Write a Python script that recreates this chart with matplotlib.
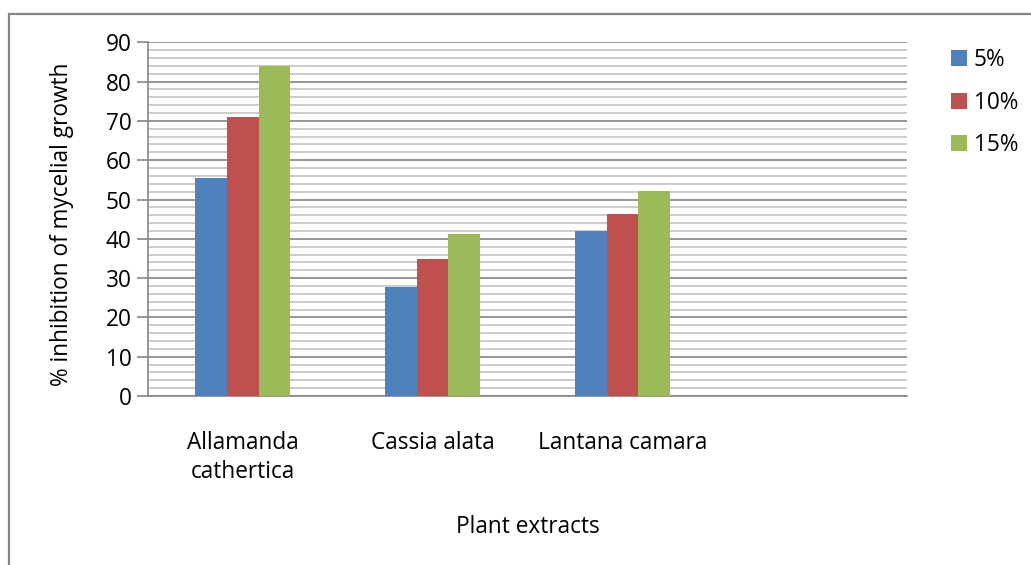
import matplotlib
matplotlib.use("Agg")
import matplotlib.pyplot as plt
from matplotlib.patches import Rectangle
from matplotlib.ticker import MultipleLocator
import numpy as np

plt.rcParams['font.family'] = ['Open Sans', 'DejaVu Sans']

categories = ["Allamanda\ncathertica", "Cassia alata", "Lantana camara", ""]
series_names = ["5%", "10%", "15%"]
vals_5 = [55.5, 27.8, 42.0]
vals_10 = [70.9, 34.9, 46.4]
vals_15 = [84.0, 41.2, 52.1]
colors = ["#4F81BD", "#C0504D", "#9BBB59"]
yticks = [0, 10, 20, 30, 40, 50, 60, 70, 80, 90]

FS = 16.3
W, H = 1031, 565
fig = plt.figure(figsize=(W / 100, H / 100), dpi=100)
ax = fig.add_axes([148 / W, 1 - 396 / H, 759 / W, (396 - 42.3) / H])

x = np.arange(len(vals_5))
bw = 1 / 6
for i, (vals, name) in enumerate(zip([vals_5, vals_10, vals_15], series_names)):
    ax.bar(x + (i - 1) * bw, vals, width=bw, color=colors[i], label=name, zorder=3)

ax.set_xlim(-0.5, len(categories) - 0.5)
ax.set_ylim(0, 90)
ax.set_yticks(yticks)
ax.yaxis.set_minor_locator(MultipleLocator(2))
ax.set_xticks(np.arange(len(categories)))
ax.set_xticklabels(categories, fontsize=FS, linespacing=1.3)
ax.tick_params(axis='x', length=0, pad=25)
ax.tick_params(axis='y', which='major', length=8, width=1.2, color='#868686', labelsize=FS, pad=4)
ax.tick_params(axis='y', which='minor', length=0)
ax.grid(axis='y', which='major', color='#8c8c8c', lw=1.3, zorder=1)
ax.grid(axis='y', which='minor', color='#c8c8c8', lw=1.3, zorder=1)

for s in ['top', 'right']:
    ax.spines[s].set_visible(False)
for s in ['left', 'bottom']:
    ax.spines[s].set_color('#868686')
    ax.spines[s].set_linewidth(1.2)

fig.text(62 / W, 1 - 224 / H, "% inhibition of mycelial growth", fontsize=FS,
         rotation=90, ha='center', va='center')
fig.text(528 / W, 1 - 527 / H, "Plant extracts", fontsize=FS, ha='center', va='center')

leg = fig.legend(loc='upper left', bbox_to_anchor=(942 / W, 1 - 39 / H), frameon=False,
                 fontsize=FS, handlelength=0.7, handleheight=0.7, handletextpad=0.3,
                 labelspacing=0.82, borderaxespad=0)

fig.patches.append(Rectangle((9 / W, -0.1), 1.2, 1.1 - 14 / H, transform=fig.transFigure,
                             fill=False, edgecolor='#868686', lw=1.6, clip_on=False))

fig.savefig("out.png", dpi=100)
